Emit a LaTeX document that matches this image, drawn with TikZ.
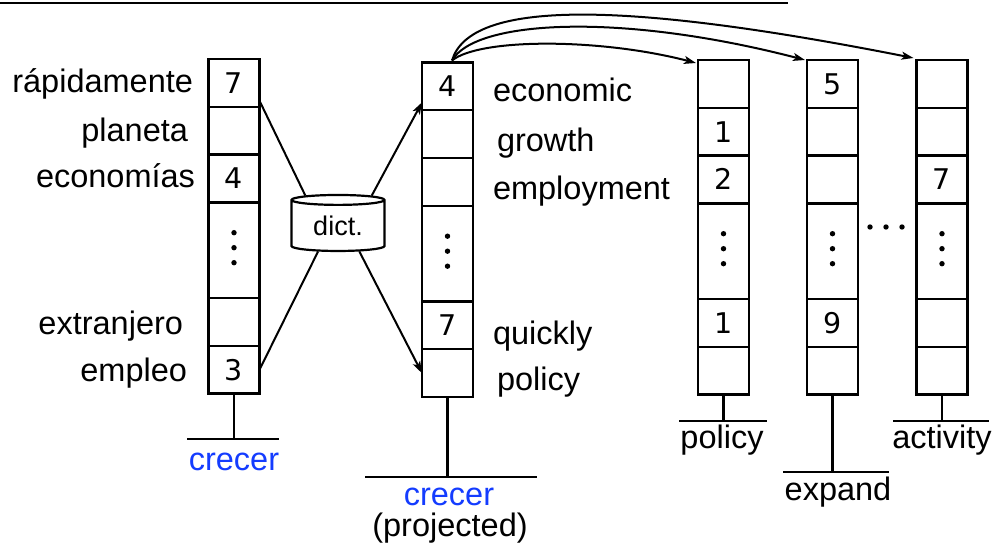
\documentclass[tikz,border=0pt]{standalone}
\usepackage{fontspec}
\setmainfont{Liberation Sans}
\newfontfamily\numfont{DejaVu Sans}
\usetikzlibrary{shapes.geometric,arrows.meta}
\definecolor{crecerblue}{RGB}{20,60,255}
\newcommand\postcol[8]{%
  \node[cell] (#1-1) at (#2,{#3+23.9}) {#4};
  \node[cell] (#1-2) at (#2,{#3+71.7}) {#5};
  \node[cell] (#1-3) at (#2,{#3+119.5}) {#6};
  \node[dcell] (#1-4) at (#2,{#3+191.2}) {};
  \node[cell] (#1-5) at (#2,{#3+262.9}) {#7};
  \node[cell] (#1-6) at (#2,{#3+310.7}) {#8};
  \foreach \dy in {17.5,2.5,-12.5} \fill ([yshift=\dy bp]#1-4.center) circle (2.7bp);
}
\begin{document}
\begin{tikzpicture}[x=1bp,y=-1bp,
  cell/.style={draw, line width=2.3bp, minimum width=51bp, minimum height=47.8bp,
    inner sep=0pt, outer sep=0pt, font=\numfont\fontsize{28.5bp}{30bp}\selectfont,
    text height=21bp, text depth=0pt},
  dcell/.style={cell, minimum height=95.6bp},
  word/.style={inner sep=0pt, outer sep=0pt, font=\fontsize{32.5bp}{39bp}\selectfont},
  blueword/.style={word, text=crecerblue},
  lw/.style={line width=2.3bp},
  conn/.style={line width=2bp},
  arr/.style={line width=2bp, -{Stealth[length=12bp,width=8bp,inset=3bp]}},
  dictstyle/.style={cylinder, shape border rotate=90, draw, line width=2.2bp, aspect=0.2,
    minimum width=93bp, minimum height=56bp, inner sep=0pt,
    font=\fontsize{27bp}{30bp}\selectfont}
]
\useasboundingbox (0,0) rectangle (994,546);
% top rule
\coordinate (rl) at (0,3);
\coordinate (rr) at (788,3);
\draw[line width=1.3bp] (rl) -- (rr);

% columns
\postcol{a}{234}{59}{7}{}{4}{}{3}
\postcol{b}{447.5}{62.5}{4}{}{}{7}{}
\postcol{c}{723.5}{60}{}{1}{2}{1}{}
\postcol{d}{832.5}{60}{5}{}{}{9}{}
\postcol{e}{942}{60}{}{}{7}{}{}

% horizontal ellipsis
\foreach \x in {870,886,902} \fill (\x,227) circle (2.7bp);

% left labels
\node[word, anchor=base east] (w1) at (193,93) {rápidamente};
\node[word, anchor=base east] (w2) at (188,142) {planeta};
\node[word, anchor=base east] (w3) at (195,188) {economías};
\node[word, anchor=base east] (w5) at (183,335) {extranjero};
\node[word, anchor=base east] (w6) at (187,382) {empleo};

% right-of-col2 labels
\node[word, anchor=base west] (v1) at (493,102) {economic};
\node[word, anchor=base west] (v2) at (497,152) {growth};
\node[word, anchor=base west] (v3) at (493,200) {employment};
\node[word, anchor=base west] (v5) at (493,345) {quickly};
\node[word, anchor=base west] (v6) at (497,390) {policy};

% stems and bars
\coordinate (sa) at (234,439);
\draw[lw] (a-6.south) -- (sa);
\coordinate (sal) at (187,439); \coordinate (sar) at (279,439);
\draw[lw] (sal) -- (sar);
\node[blueword, anchor=base] (ta) at (234,470) {crecer};

\coordinate (sb) at (447.5,477);
\draw[lw] (b-6.south) -- (sb);
\coordinate (sbl) at (365,477); \coordinate (sbr) at (537,477);
\draw[lw] (sbl) -- (sbr);
\node[blueword, anchor=base] (tb) at (449,505) {crecer};
\node[word, anchor=base] (tb2) at (450,536) {(projected)};

\coordinate (sc) at (723.5,421);
\draw[lw] (c-6.south) -- (sc);
\coordinate (scl) at (679,421); \coordinate (scr) at (767,421);
\draw[lw] (scl) -- (scr);
\node[word, anchor=base] (tc) at (722,448) {policy};

\coordinate (sd) at (832.5,472);
\draw[lw] (d-6.south) -- (sd);
\coordinate (sdl) at (783,472); \coordinate (sdr) at (889,472);
\draw[lw] (sdl) -- (sdr);
\node[word, anchor=base] (td) at (838,500) {expand};

\coordinate (se) at (942,421);
\draw[lw] (e-6.south) -- (se);
\coordinate (sel) at (893,421); \coordinate (ser) at (989,421);
\draw[lw] (sel) -- (ser);
\node[word, anchor=base] (te) at (942,448) {activity};

% dictionary
\node[dictstyle] (dict) at (338,226) {dict.};
\draw[conn] (a-1.-35) -- (dict.137);
\draw[conn] (a-6.east) -- (dict.232);
\draw[arr] (dict.42) -- (b-1.212);
\draw[arr] (dict.310) -- (b-6.west);

% curved arrows from projected column
\coordinate (src) at (452,60.5);
\draw[arr] (src) .. controls (480,38) and (600,38) .. ([shift={(-2,3)}]c-1.north west);
\draw[arr] (src) .. controls (475,20) and (620,12) .. ([shift={(-2,0)}]d-1.north west);
\draw[arr] (src) .. controls (470,0) and (620,0) .. ([shift={(-3,-2)}]e-1.north west);
\end{tikzpicture}
\end{document}
